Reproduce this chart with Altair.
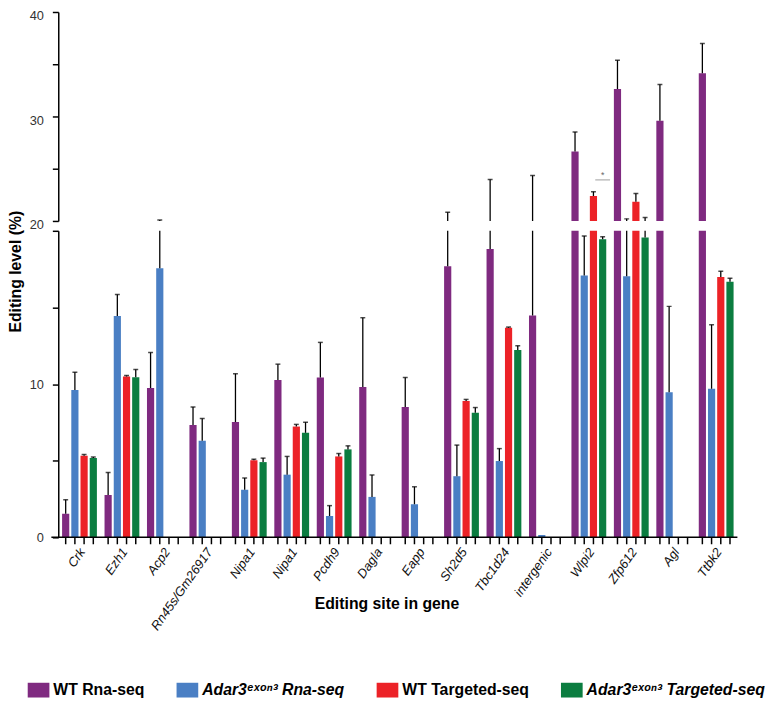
import altair as alt
import pandas as pd

# ---------------- data ----------------
sites = ["Crk", "Ezh1", "Acp2", "Rn45s/Gm26917", "Nipa1#1", "Nipa1#2", "Pcdh9", "Dagla",
         "Eapp", "Sh2d5", "Tbc1d24", "intergenic", "Wlpi2", "Zfp612", "Agl", "Ttbk2"]
series = ["WT Rna-seq", "Adar3ᵉˣᵒⁿ³ Rna-seq", "WT Targeted-seq", "Adar3ᵉˣᵒⁿ³ Targeted-seq"]
colors = ["#7f2a80", "#4a7fc4", "#ec2227", "#0b7d40"]

wt_rna     = [1.54, 2.76, 9.74, 7.33, 7.53, 10.27, 10.43, 9.81, 8.50, 17.68, 18.81, 14.47, 26.65, 32.63, 29.58, 34.13]
wt_rna_top = [2.46, 4.23, 12.06, 8.50, 10.68, 11.30, 12.72, 14.33, 10.43, 20.84, 23.96, 24.36, 28.51, 35.39, 33.06, 36.98]

ko_rna     = [9.62, 14.45, 17.55, 6.30, 3.10, 4.09, 1.40, 2.64, 2.16, 3.99, 4.98, 0.16, 17.09, 17.04, 9.46, 9.69]
ko_rna_top = [10.77, 15.85, 20.10, 7.76, 3.88, 5.28, 2.07, 4.07, 3.30, 6.02, 5.79, None, 19.66, 20.20, 15.07, 13.87]

wt_tgt     = [5.33, 10.50, None, None, 5.03, 7.23, 5.28, None, None, 8.89, 13.67, None, 22.39, 21.83, None, 16.98]
wt_tgt_top = [5.40, 10.56, None, None, 5.10, 7.37, 5.47, None, None, 9.00, 13.72, None, 22.79, 22.63, None, 17.36]

ko_tgt     = [5.17, 10.45, None, None, 4.91, 6.82, 5.74, None, None, 8.13, 12.22, None, 19.45, 19.57, None, 16.67]
ko_tgt_top = [5.25, 10.95, None, None, 5.17, 7.51, 5.97, None, None, 8.47, 12.50, None, 19.62, 20.34, None, 16.90]

sig_site = ["Wlpi2"]
sig_line = [23.93]
sig_star = [24.35]

# ---------------- tables ----------------
rows = []
for s, vals, tops in zip(series, [wt_rna, ko_rna, wt_tgt, ko_tgt],
                         [wt_rna_top, ko_rna_top, wt_tgt_top, ko_tgt_top]):
    for site, v, t in zip(sites, vals, tops):
        if v is not None:
            rows.append({"site": site, "series": s, "value": v, "top": t})
df = pd.DataFrame(rows)
err_df = df.dropna(subset=["top"])
tick_df = pd.DataFrame([{"site": a, "series": b} for a in sites for b in series])
sig_df = pd.DataFrame({"site": sig_site, "series": [series[3]], "line": sig_line, "star": sig_star})
one_df = pd.DataFrame({"k": [0]})

W, H_UP, H_LO = 689, 212, 311
FONT = "Liberation Sans"

xscale = alt.Scale(paddingInner=0.18, paddingOuter=0.09)
xoscale = alt.Scale(paddingInner=0.22, paddingOuter=0)
cscale = alt.Scale(domain=series, range=colors)

def xenc(axis):
    return alt.X("site:N", sort=sites, scale=xscale, axis=axis)

xo = alt.XOffset("series:N", sort=series, scale=xoscale)

yaxis_common = dict(grid=False, domainColor="black", domainWidth=1.5, tickColor="black",
                    tickWidth=1.5, tickSize=6, labelFont=FONT, labelFontSize=13,
                    labelColor="#333333", labelPadding=9)

# ---------------- upper panel (20-40) ----------------
y_up = alt.Scale(domain=[20, 40], nice=False, zero=False)
up_axis = alt.Axis(values=[20, 25, 30, 35, 40], title=None, labelOffset=4,
                   labelExpr="datum.value % 10 === 0 ? datum.label : ''", **yaxis_common)

up_bars = alt.Chart(df).mark_bar(clip=True).encode(
    x=xenc(None), xOffset=xo,
    y=alt.Y("value:Q", scale=y_up, axis=up_axis),
    y2=alt.datum(0),
    color=alt.Color("series:N", scale=cscale, sort=series, legend=None),
)
up_err = alt.Chart(err_df).mark_rule(clip=True, color="black", strokeWidth=1.3).encode(
    x=xenc(None), xOffset=xo, y=alt.Y("value:Q", scale=y_up), y2="top:Q")
up_cap = alt.Chart(err_df).mark_tick(clip=True, color="black", size=5, thickness=1.5).encode(
    x=xenc(None), xOffset=xo, y=alt.Y("top:Q", scale=y_up))
sig_rule = alt.Chart(sig_df).mark_tick(color="#8a8a8a", size=15, thickness=1.2).encode(
    x=xenc(None), xOffset=xo, y=alt.Y("line:Q", scale=y_up))
sig_text = alt.Chart(sig_df).mark_text(text="*", color="#666666", fontSize=9, font=FONT,
                                       baseline="middle").encode(
    x=xenc(None), xOffset=xo, y=alt.Y("star:Q", scale=y_up))

upper = alt.layer(up_bars, up_err, up_cap, sig_rule, sig_text).properties(width=W, height=H_UP)

# ---------------- lower panel (0-20) ----------------
y_lo = alt.Scale(domain=[0, 20], nice=False)
lo_axis = alt.Axis(values=[0, 5, 10, 15, 20],
                   labelExpr="datum.value === 0 || datum.value === 10 ? datum.label : ''",
                   title="Editing level (%)", titleFont=FONT, titleFontSize=16,
                   titleFontWeight="bold", titleColor="black", titleAngle=270,
                   titleX=-43, titleY=41, titleAlign="center", titleBaseline="middle",
                   **yaxis_common)
x_axis = alt.Axis(title="Editing site in gene", labelAngle=-55, labelFont=FONT,
                  labelFontSize=13, labelFontStyle="italic", labelColor="#111111",
                  labelExpr="split(datum.label, '#')[0]", ticks=False, tickSize=0,
                  domain=False, labelPadding=12, labelOffset=3,
                  titleFont=FONT, titleFontSize=16, titleFontWeight="bold", titleColor="black",
                  titleX=333, titleY=67, titleAlign="center", titleBaseline="middle")

legend = alt.Legend(orient="none", legendX=-31, legendY=455, direction="horizontal",
                    columns=4, title=None,
                    symbolType="M-1,-0.68L1,-0.68L1,0.68L-1,0.68Z", symbolSize=484,
                    symbolStrokeWidth=0, symbolOpacity=1,
                    labelFont=FONT, labelFontSize=16, labelFontWeight="bold",
                    labelColor="black", labelLimit=0, labelOffset=4, columnPadding=32,
                    labelFontStyle={"expr": "test(/Adar3/, datum.label) ? 'italic' : 'normal'"})

lo_bars = alt.Chart(df).mark_bar(clip=True).encode(
    x=xenc(x_axis), xOffset=xo,
    y=alt.Y("value:Q", scale=y_lo, axis=lo_axis),
    y2=alt.datum(0),
    color=alt.Color("series:N", scale=cscale, sort=series, legend=legend),
)
lo_err = alt.Chart(err_df).mark_rule(clip=True, color="black", strokeWidth=1.3).encode(
    x=xenc(x_axis), xOffset=xo, y=alt.Y("value:Q", scale=y_lo), y2="top:Q")
lo_cap = alt.Chart(err_df).mark_tick(clip=True, color="black", size=5, thickness=1.5).encode(
    x=xenc(x_axis), xOffset=xo, y=alt.Y("top:Q", scale=y_lo))
x_ticks = alt.Chart(tick_df).mark_rule(color="black", strokeWidth=1.5).encode(
    x=xenc(x_axis), xOffset=xo, y=alt.value(H_LO), y2=alt.value(H_LO + 7))
x_line = alt.Chart(one_df).mark_rule(color="black", strokeWidth=1.5).encode(
    x=alt.value(-7), x2=alt.value(W), y=alt.value(H_LO))

lower = alt.layer(lo_bars, lo_err, lo_cap, x_ticks, x_line).properties(width=W, height=H_LO)

chart = alt.vconcat(upper, lower, spacing=10, bounds="flush").resolve_scale(
    y="independent", color="independent"
).properties(
    padding={"left": 0, "top": -3, "right": 0, "bottom": 0}
).configure(font=FONT).configure_view(stroke=None)

chart.save("out.html", embed_options={"renderer": "svg", "actions": False})
